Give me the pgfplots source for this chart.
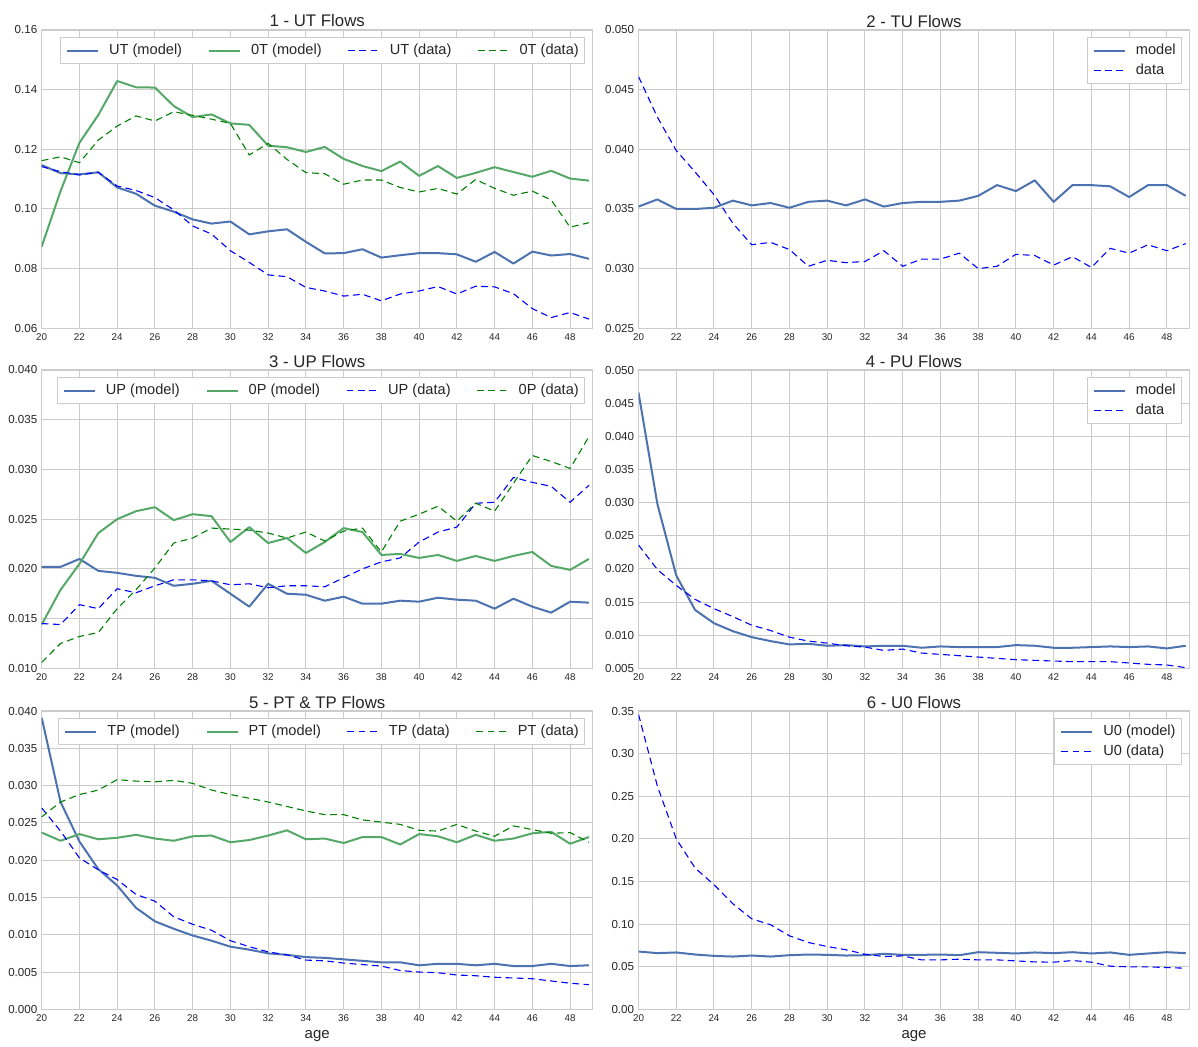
\documentclass[border=0pt]{standalone}
\usepackage{pgfplots}
\pgfplotsset{compat=1.18}
\usepackage{pgfplotstable}
\usepackage{fontspec}
\setmainfont{Liberation Sans}
\definecolor{sbblue}{HTML}{4C72B0}
\definecolor{sbgreen}{HTML}{55A868}
\definecolor{pureblue}{HTML}{0000FF}
\definecolor{puregreen}{HTML}{008000}
\definecolor{gridc}{HTML}{CCCCCC}
\definecolor{txt}{HTML}{262626}

\pgfplotstableread{
age a b c d
20 0.1147 0.0874 0.1142 0.1162
21 0.1120 0.1060 0.1125 0.1175
22 0.1116 0.1222 0.1114 0.1155
23 0.1123 0.1315 0.1123 0.1231
24 0.1072 0.1429 0.1077 0.1278
25 0.1051 0.1408 0.1062 0.1312
26 0.1011 0.1407 0.1038 0.1295
27 0.0991 0.1345 0.0997 0.1326
28 0.0965 0.1308 0.0943 0.1314
29 0.0951 0.1317 0.0916 0.1301
30 0.0958 0.1287 0.0860 0.1287
31 0.0915 0.1282 0.0821 0.1181
32 0.0925 0.1212 0.0779 0.1220
33 0.0932 0.1207 0.0773 0.1166
34 0.0890 0.1191 0.0737 0.1122
35 0.0851 0.1208 0.0725 0.1118
36 0.0852 0.1168 0.0708 0.1083
37 0.0865 0.1144 0.0714 0.1097
38 0.0837 0.1127 0.0692 0.1097
39 0.0845 0.1159 0.0715 0.1072
40 0.0852 0.1111 0.0725 0.1057
41 0.0852 0.1144 0.0740 0.1069
42 0.0848 0.1104 0.0715 0.1050
43 0.0823 0.1121 0.0741 0.1099
44 0.0856 0.1140 0.0739 0.1069
45 0.0817 0.1124 0.0716 0.1046
46 0.0857 0.1108 0.0666 0.1060
47 0.0844 0.1128 0.0636 0.1030
48 0.0849 0.1102 0.0653 0.0939
49 0.0833 0.1095 0.0631 0.0954
}\tabA

\pgfplotstableread{
age m d
20 0.0352 0.0461
21 0.0358 0.0427
22 0.0350 0.0399
23 0.0350 0.0381
24 0.0351 0.0362
25 0.0357 0.0338
26 0.0353 0.0320
27 0.0355 0.0322
28 0.0351 0.0316
29 0.0356 0.0302
30 0.0357 0.0307
31 0.0353 0.0305
32 0.0358 0.0306
33 0.0352 0.0315
34 0.0355 0.0302
35 0.0356 0.0308
36 0.0356 0.0308
37 0.0357 0.0313
38 0.0361 0.0300
39 0.0370 0.0302
40 0.0365 0.0312
41 0.0374 0.0311
42 0.0356 0.0303
43 0.0370 0.0310
44 0.0370 0.0301
45 0.0369 0.0317
46 0.0360 0.0313
47 0.0370 0.0320
48 0.0370 0.0315
49 0.0361 0.0321
}\tabB

\pgfplotstableread{
age a b c d
20 0.0202 0.0144 0.0145 0.0106
21 0.0202 0.0179 0.0144 0.0125
22 0.0210 0.0205 0.0164 0.0132
23 0.0198 0.0236 0.0160 0.0136
24 0.0196 0.0250 0.0180 0.0160
25 0.0193 0.0258 0.0176 0.0179
26 0.0191 0.0262 0.0183 0.0201
27 0.0183 0.0249 0.0189 0.0226
28 0.0185 0.0255 0.0189 0.0231
29 0.0188 0.0253 0.0188 0.0241
30 0.0175 0.0227 0.0184 0.0240
31 0.0162 0.0242 0.0185 0.0239
32 0.0185 0.0226 0.0181 0.0236
33 0.0175 0.0231 0.0183 0.0231
34 0.0174 0.0216 0.0183 0.0237
35 0.0168 0.0227 0.0182 0.0228
36 0.0172 0.0241 0.0191 0.0238
37 0.0165 0.0237 0.0200 0.0241
38 0.0165 0.0214 0.0207 0.0217
39 0.0168 0.0215 0.0211 0.0248
40 0.0167 0.0211 0.0227 0.0255
41 0.0171 0.0214 0.0237 0.0263
42 0.0169 0.0208 0.0242 0.0248
43 0.0168 0.0213 0.0266 0.0266
44 0.0160 0.0208 0.0267 0.0258
45 0.0170 0.0213 0.0292 0.0286
46 0.0162 0.0217 0.0287 0.0314
47 0.0156 0.0203 0.0283 0.0308
48 0.0167 0.0199 0.0267 0.0301
49 0.0166 0.0210 0.0284 0.0333
}\tabC

\pgfplotstableread{
age m d
20 0.0466 0.0236
21 0.0298 0.0199
22 0.0190 0.0175
23 0.0138 0.0154
24 0.0118 0.0140
25 0.0106 0.0128
26 0.0097 0.0115
27 0.0091 0.0107
28 0.0086 0.0097
29 0.0087 0.0091
30 0.0084 0.0088
31 0.0085 0.0084
32 0.0083 0.0082
33 0.0084 0.0077
34 0.0084 0.0079
35 0.0081 0.0073
36 0.0083 0.0071
37 0.0082 0.0069
38 0.0082 0.0067
39 0.0082 0.0065
40 0.0085 0.0063
41 0.0084 0.0062
42 0.0081 0.0061
43 0.0081 0.0060
44 0.0082 0.0060
45 0.0083 0.0060
46 0.0082 0.0058
47 0.0083 0.0056
48 0.0080 0.0055
49 0.0084 0.0051
}\tabD

\pgfplotstableread{
age a b c d
20 0.0391 0.0237 0.0270 0.0258
21 0.0278 0.0226 0.0239 0.0278
22 0.0225 0.0235 0.0203 0.0288
23 0.0188 0.0228 0.0187 0.0294
24 0.0166 0.0230 0.0174 0.0308
25 0.0136 0.0234 0.0154 0.0306
26 0.0118 0.0229 0.0145 0.0305
27 0.0108 0.0226 0.0124 0.0307
28 0.0099 0.0232 0.0114 0.0303
29 0.0092 0.0233 0.0106 0.0294
30 0.0084 0.0224 0.0092 0.0288
31 0.0080 0.0227 0.0084 0.0283
32 0.0075 0.0233 0.0077 0.0278
33 0.0073 0.0240 0.0073 0.0272
34 0.0070 0.0228 0.0066 0.0266
35 0.0069 0.0229 0.0065 0.0261
36 0.0067 0.0223 0.0062 0.0261
37 0.0065 0.0231 0.0060 0.0254
38 0.0063 0.0231 0.0058 0.0251
39 0.0063 0.0221 0.0052 0.0248
40 0.0059 0.0235 0.0050 0.0240
41 0.0061 0.0232 0.0049 0.0239
42 0.0061 0.0224 0.0046 0.0248
43 0.0059 0.0234 0.0045 0.0239
44 0.0061 0.0226 0.0043 0.0232
45 0.0058 0.0229 0.0042 0.0246
46 0.0058 0.0236 0.0041 0.0241
47 0.0061 0.0238 0.0038 0.0236
48 0.0058 0.0222 0.0035 0.0237
49 0.0059 0.0231 0.0033 0.0224
}\tabE

\pgfplotstableread{
age m d
20 0.0678 0.3461
21 0.0659 0.2620
22 0.0667 0.2000
23 0.0643 0.1658
24 0.0627 0.1462
25 0.0619 0.1238
26 0.0631 0.1062
27 0.0619 0.0992
28 0.0635 0.0862
29 0.0643 0.0784
30 0.0639 0.0737
31 0.0631 0.0698
32 0.0635 0.0647
33 0.0651 0.0619
34 0.0639 0.0627
35 0.0639 0.0580
36 0.0643 0.0580
37 0.0635 0.0588
38 0.0670 0.0580
39 0.0663 0.0580
40 0.0655 0.0568
41 0.0667 0.0556
42 0.0659 0.0553
43 0.0670 0.0572
44 0.0655 0.0553
45 0.0667 0.0506
46 0.0639 0.0498
47 0.0655 0.0498
48 0.0670 0.0490
49 0.0659 0.0482
}\tabF

\tikzset{
  stMB/.style={draw=sbblue, line width=1pt, solid, line join=round},
  stMG/.style={draw=sbgreen, line width=1pt, solid, line join=round},
  stDB/.style={draw=pureblue, line width=0.55pt, dash pattern=on 3.4pt off 2.2pt},
  stDG/.style={draw=puregreen, line width=0.55pt, dash pattern=on 3.4pt off 2.2pt},
}

\pgfplotsset{
  flowax/.style={
    scale only axis, width=275.5pt, height=149.15pt,
    xmin=20, xmax=49.2,
    xtick={20,22,...,48},
    scaled y ticks=false,
    grid=major,
    major grid style={draw=gridc, line width=0.5pt},
    axis line style={draw=gridc, line width=0.6pt},
    major tick length=0pt,
    /pgf/number format/assume math mode=true,
    xticklabel style={font=\color{txt}\fontsize{4.9}{5}\selectfont, inner sep=0pt, yshift=-2.35pt},
    yticklabel style={font=\color{txt}\fontsize{5.8}{6}\selectfont, inner sep=0pt, xshift=-2pt,
      /pgf/number format/fixed, /pgf/number format/fixed zerofill, /pgf/number format/precision=3},
    title style={font=\color{txt}\fontsize{8.4}{9}\selectfont, at={(0.5,1)}, anchor=base, yshift=-4.5pt},
    xlabel style={font=\color{txt}\fontsize{7.5}{8}\selectfont, at={(axis description cs:0.5,0)}, anchor=base, yshift=-14.8pt},
    legend cell align=left,
    legend image code/.code={\draw[##1] (0pt,0pt) -- (15.5pt,0pt);},
    legend style={at={(1,1)}, anchor=north east, xshift=-3.85pt, yshift=-3.65pt,
      draw=gridc, line width=0.5pt, fill=white, inner xsep=2.85pt, inner ysep=3pt,
      font=\fontsize{7.3}{8}\selectfont,
      nodes={inner sep=0pt, text height=5.3pt, text depth=1.6pt, text=txt},
      row sep=3.2pt,
      /tikz/every odd column/.append style={column sep=5pt},
      /tikz/every even column/.append style={column sep=13pt}},
  },
}

\begin{document}
\begin{tikzpicture}[x=1pt,y=1pt]
\useasboundingbox (0,0) rectangle (599,523);

% Panel 1
\begin{axis}[flowax, at={(20.85pt,358.85pt)}, anchor=south west,
  title={1 - UT Flows}, ymin=0.06, ymax=0.16,
  ytick={0.06,0.08,0.10,0.12,0.14,0.16},
  yticklabel style={/pgf/number format/precision=2},
  legend columns=4]
\addplot[stMB] table[x=age,y=a] {\tabA};
\addplot[stMG] table[x=age,y=b] {\tabA};
\addplot[stDB] table[x=age,y=c] {\tabA};
\addplot[stDG] table[x=age,y=d] {\tabA};
\legend{UT (model),0T (model),UT (data),0T (data)}
\end{axis}

% Panel 2
\begin{axis}[flowax, at={(319.25pt,358.85pt)}, anchor=south west,
  title={2 - TU Flows}, ymin=0.025, ymax=0.050,
  ytick={0.025,0.030,0.035,0.040,0.045,0.050}]
\addplot[stMB] table[x=age,y=m] {\tabB};
\addplot[stDB] table[x=age,y=d] {\tabB};
\legend{model,data}
\end{axis}

% Panel 3
\begin{axis}[flowax, at={(20.85pt,188.85pt)}, anchor=south west,
  title={3 - UP Flows}, ymin=0.010, ymax=0.040,
  ytick={0.010,0.015,0.020,0.025,0.030,0.035,0.040},
  legend columns=4]
\addplot[stMB] table[x=age,y=a] {\tabC};
\addplot[stMG] table[x=age,y=b] {\tabC};
\addplot[stDB] table[x=age,y=c] {\tabC};
\addplot[stDG] table[x=age,y=d] {\tabC};
\legend{UP (model),0P (model),UP (data),0P (data)}
\end{axis}

% Panel 4
\begin{axis}[flowax, at={(319.25pt,188.85pt)}, anchor=south west,
  title={4 - PU Flows}, ymin=0.005, ymax=0.050,
  ytick={0.005,0.010,0.015,0.020,0.025,0.030,0.035,0.040,0.045,0.050}]
\addplot[stMB] table[x=age,y=m] {\tabD};
\addplot[stDB] table[x=age,y=d] {\tabD};
\legend{model,data}
\end{axis}

% Panel 5
\begin{axis}[flowax, at={(20.85pt,18.35pt)}, anchor=south west,
  title={5 - PT \& TP Flows}, xlabel={age}, ymin=0, ymax=0.040,
  ytick={0,0.005,0.010,0.015,0.020,0.025,0.030,0.035,0.040},
  legend columns=4]
\addplot[stMB] table[x=age,y=a] {\tabE};
\addplot[stMG] table[x=age,y=b] {\tabE};
\addplot[stDB] table[x=age,y=c] {\tabE};
\addplot[stDG] table[x=age,y=d] {\tabE};
\legend{TP (model),PT (model),TP (data),PT (data)}
\end{axis}

% Panel 6
\begin{axis}[flowax, at={(319.25pt,18.35pt)}, anchor=south west,
  title={6 - U0 Flows}, xlabel={age}, ymin=0, ymax=0.35,
  ytick={0,0.05,0.10,0.15,0.20,0.25,0.30,0.35},
  yticklabel style={/pgf/number format/precision=2}]
\addplot[stMB] table[x=age,y=m] {\tabF};
\addplot[stDB] table[x=age,y=d] {\tabF};
\legend{U0 (model),U0 (data)}
\end{axis}
\end{tikzpicture}
\end{document}
